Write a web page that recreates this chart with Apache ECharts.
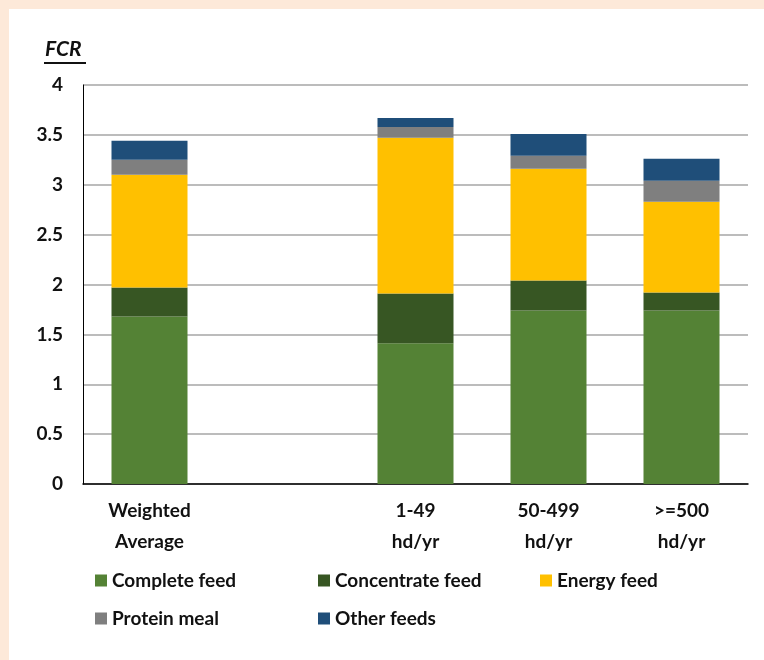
<!DOCTYPE html>
<html>
<head>
<meta charset="utf-8">
<script src="https://cdn.jsdelivr.net/npm/echarts@6/dist/echarts.min.js"></script>
<style>
  html, body { margin: 0; padding: 0; background: #fde9d9; }
  #chart { position: absolute; left: 9px; top: 9px; width: 755px; height: 651px; background: #fff; }
</style>
</head>
<body>
<div id="chart"></div>
<script>
const categories = ['Weighted\nAverage', '', '1-49\nhd/yr', '50-499\nhd/yr', '>=500\nhd/yr'];
const completeFeed = [1.68, null, 1.41, 1.74, 1.74];
const concentrateFeed = [0.29, null, 0.50, 0.30, 0.18];
const energyFeed = [1.13, null, 1.56, 1.12, 0.91];
const proteinMeal = [0.15, null, 0.11, 0.13, 0.21];
const otherFeeds = [0.19, null, 0.09, 0.22, 0.22];
const yTicks = [0, 0.5, 1, 1.5, 2, 2.5, 3, 3.5, 4];

const seriesDefs = [
  { name: 'Complete feed', data: completeFeed, color: '#548235' },
  { name: 'Concentrate feed', data: concentrateFeed, color: '#375623' },
  { name: 'Energy feed', data: energyFeed, color: '#ffc000' },
  { name: 'Protein meal', data: proteinMeal, color: '#7f7f7f' },
  { name: 'Other feeds', data: otherFeeds, color: '#1f4e79' },
];

const font = 'Lato, "Open Sans", sans-serif';
// legend slots (chart coords)
const legendPos = [
  { left: 86, top: 562 }, { left: 309, top: 562 }, { left: 531, top: 562 },
  { left: 86, top: 600 }, { left: 309, top: 600 },
];

const chart = echarts.init(document.getElementById('chart'));
chart.setOption({
  animation: false,
  grid: { left: 74, right: 16, top: 76, bottom: 176 },
  legend: seriesDefs.map((s, i) => ({
    data: [s.name],
    left: legendPos[i].left,
    top: legendPos[i].top,
    padding: 0,
    icon: 'rect',
    itemWidth: 12,
    itemHeight: 12,
    itemGap: 6,
    textStyle: { fontFamily: font, fontSize: 19, fontWeight: 'bold', color: '#111' },
  })),
  xAxis: {
    type: 'category',
    data: categories,
    axisLine: { lineStyle: { color: '#000', width: 1.5 } },
    axisTick: { show: false },
    axisLabel: {
      interval: 0,
      margin: 11,
      lineHeight: 31,
      fontFamily: font,
      fontSize: 19,
      fontWeight: 'bold',
      color: '#111',
    },
  },
  yAxis: {
    type: 'value',
    min: yTicks[0],
    max: yTicks[yTicks.length - 1],
    interval: 0.5,
    axisLine: { show: true, lineStyle: { color: '#000' } },
    axisTick: { show: false },
    splitLine: { lineStyle: { color: '#a6a6a6', width: 1.5 } },
    axisLabel: {
      margin: 20,
      fontFamily: font,
      fontSize: 19,
      fontWeight: 'bold',
      color: '#111',
      formatter: (v) => String(v),
    },
  },
  graphic: [
    {
      type: 'text',
      left: 36,
      top: 30,
      style: { text: 'FCR', font: 'italic bold 21px ' + font, fill: '#111' },
    },
    {
      type: 'line',
      shape: { x1: 35, y1: 54, x2: 77, y2: 54 },
      style: { stroke: '#111', lineWidth: 2 },
    },
  ],
  series: seriesDefs.map((s) => ({
    name: s.name,
    type: 'bar',
    stack: 'fcr',
    barWidth: 76,
    data: s.data,
    itemStyle: { color: s.color },
  })),
});
</script>
</body>
</html>
